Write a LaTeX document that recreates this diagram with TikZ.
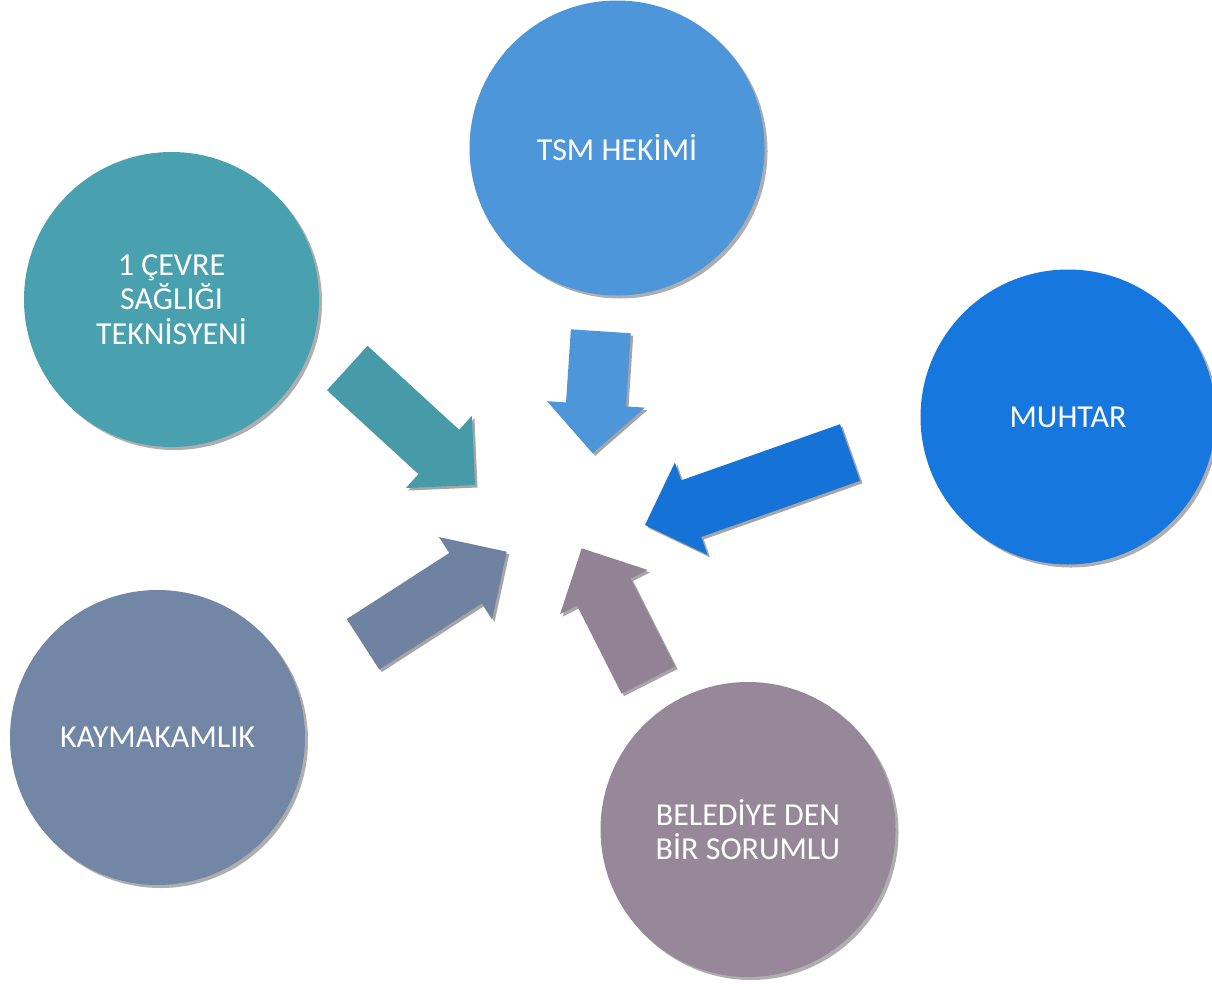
\documentclass[tikz,border=0pt]{standalone}
\usepackage{fontspec}
\setmainfont{Carlito}
\usetikzlibrary{calc,shadows}

\definecolor{tsmblue}{HTML}{4D96D9}
\definecolor{cevreteal}{HTML}{49A0AE}
\definecolor{muhtarblue}{HTML}{1677DF}
\definecolor{kaymslate}{HTML}{7286A6}
\definecolor{beledmauve}{HTML}{968799}

% block arrow: #1 colour, #2 tail, #3 tip (shaft 60, head 98 wide, 49 long)
\newcommand{\blockarrow}[3]{%
  \coordinate (neck) at ($(#3)!49pt!(#2)$);
  \fill[pointer, #1] ($(#2)!30pt!90:(#3)$) -- ($(neck)!30pt!90:(#3)$)
    -- ($(neck)!49pt!90:(#3)$) -- (#3) -- ($(neck)!49pt!-90:(#3)$)
    -- ($(neck)!30pt!-90:(#3)$) -- ($(#2)!30pt!-90:(#3)$) -- cycle;}

\begin{document}
\begin{tikzpicture}[x=1pt, y=-1pt,
  bubble/.style={circle, minimum size=295pt, inner sep=0pt, align=center,
    text=white, font=\fontsize{32}{34.5}\selectfont,
    drop shadow={shadow xshift=3pt, shadow yshift=-3pt, fill=black!70, opacity=0.45}},
  pointer/.style={drop shadow={shadow xshift=2.5pt, shadow yshift=-2.5pt, fill=black!70, opacity=0.5}}]
  \useasboundingbox (0,0) rectangle (1212,983);
  % the five circles around an empty hub
  \node[bubble, fill=tsmblue] (tsm) at (617,148) {TSM HEKİMİ};
  \node[bubble, fill=cevreteal] (cevre) at (171.5,299.5) {1 ÇEVRE\\SAĞLIĞI\\TEKNİSYENİ};
  \node[bubble, fill=muhtarblue] (muhtar) at (1068,417) {MUHTAR};
  \node[bubble, fill=kaymslate] (kaym) at (157.5,737.5) {KAYMAKAMLIK};
  \node[bubble, fill=beledmauve] (beled) at (748,829.5) {BELEDİYE DEN\\BİR SORUMLU};
  % arrow ends
  \coordinate (tsm-a) at (600.8,331.3);   \coordinate (tsm-b) at (592.7,453.3);
  \coordinate (cevre-a) at (347.3,368);   \coordinate (cevre-b) at (475,485);
  \coordinate (muhtar-a) at (850,452.5);  \coordinate (muhtar-b) at (645,525);
  \coordinate (kaym-a) at (363,644.3);    \coordinate (kaym-b) at (506.7,551.7);
  \coordinate (beled-a) at (648.3,680);   \coordinate (beled-b) at (581.7,548.3);
  \blockarrow{fill=tsmblue}{tsm-a}{tsm-b}
  \blockarrow{fill=cevreteal!97!black}{cevre-a}{cevre-b}
  \blockarrow{fill=muhtarblue!97!black}{muhtar-a}{muhtar-b}
  \blockarrow{fill=kaymslate!97!black}{kaym-a}{kaym-b}
  \blockarrow{fill=beledmauve!97!black}{beled-a}{beled-b}
\end{tikzpicture}
\end{document}
